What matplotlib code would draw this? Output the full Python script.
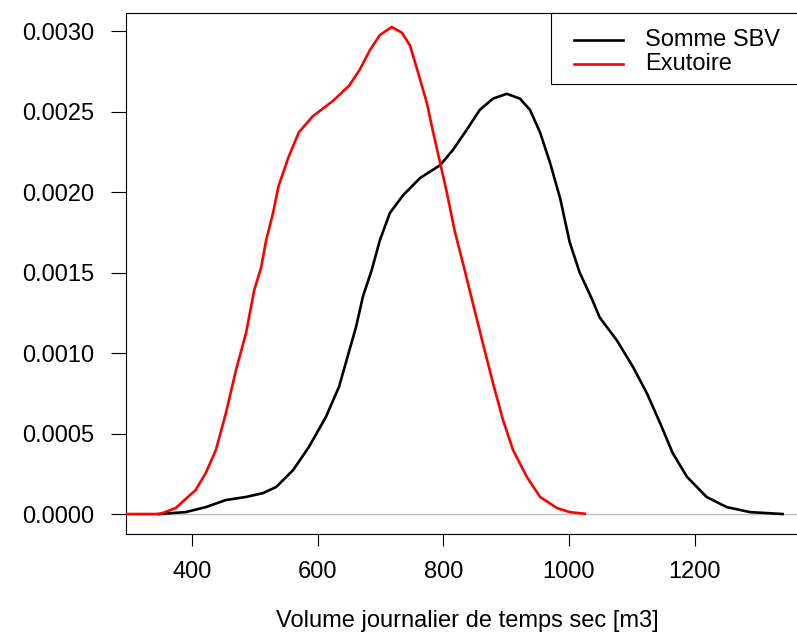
import matplotlib
matplotlib.use("Agg")
import matplotlib.pyplot as plt
from matplotlib.patches import Rectangle

plt.rcParams["font.family"] = ["Liberation Sans", "DejaVu Sans"]

# density curves
sbv_x = [347, 390, 422, 454, 486, 513, 534, 561, 586, 613, 634, 650, 661, 672,
         686, 699, 715, 736, 763, 795, 815, 837, 858, 879, 901, 922, 938, 954,
         970, 986, 1001, 1017, 1036, 1049, 1076, 1102, 1124, 1145, 1165, 1188,
         1219, 1251, 1288, 1340]
sbv_y = [0.0, 0.12, 0.43, 0.87, 1.06, 1.3, 1.68, 2.73, 4.16, 6.02, 7.9, 10.1,
         11.6, 13.5, 15.15, 17.0, 18.7, 19.8, 20.87, 21.67, 22.6, 23.85, 25.1,
         25.8, 26.1, 25.8, 25.1, 23.7, 21.8, 19.6, 16.9, 15.0, 13.4, 12.2, 10.8,
         9.13, 7.5, 5.65, 3.79, 2.3, 1.06, 0.43, 0.12, 0.0]

exu_x = [295, 349, 374, 406, 422, 438, 454, 470, 486, 499, 510, 518, 529, 538,
         554, 570, 592, 624, 650, 667, 683, 699, 718, 734, 747, 760, 774, 783,
         795, 806, 818, 834, 847, 863, 879, 895, 911, 933, 954, 981, 1001, 1025]
exu_y = [0.0, 0.0, 0.37, 1.5, 2.55, 3.97, 6.27, 8.94, 11.24, 13.9, 15.3, 17.0,
         18.7, 20.4, 22.2, 23.7, 24.7, 25.65, 26.6, 27.6, 28.8, 29.75, 30.25,
         29.9, 29.1, 27.4, 25.5, 23.85, 21.8, 19.9, 17.6, 15.15, 13.1, 10.6,
         8.14, 5.84, 3.97, 2.3, 1.06, 0.37, 0.12, 0.02]

series_labels = ["Somme SBV", "Exutoire"]
series_colors = ["black", "red"]
y_ticks = [0.0, 0.0005, 0.001, 0.0015, 0.002, 0.0025, 0.003]
x_ticks = [400, 600, 800, 1000, 1200]

fig = plt.figure(figsize=(7.97, 6.33), dpi=100)
# axes box runs a little past the right edge of the picture, as in the reference
ax = fig.add_axes([126 / 797, 99 / 633, 683 / 797, 521 / 633])

ax.axhline(0, color="#BEBEBE", lw=1.0, zorder=1)
ax.plot(sbv_x, [v * 1e-4 for v in sbv_y], color=series_colors[0], lw=1.9, zorder=2)
ax.plot(exu_x, [v * 1e-4 for v in exu_y], color=series_colors[1], lw=1.9, zorder=3)

ax.set_xlim(295, 1382)
ax.set_ylim(-0.000124, 0.003112)
ax.set_xticks(x_ticks)
ax.set_yticks(y_ticks)
ax.set_yticklabels(["%.4f" % t for t in y_ticks])

for s in ax.spines.values():
    s.set_linewidth(0.8)
ax.tick_params(axis="y", length=11, width=0.8, pad=12, labelsize=17)
ax.tick_params(axis="x", length=8.6, width=0.8, pad=11, labelsize=17)
ax.set_xlabel("Volume journalier de temps sec [m3]", fontsize=17, labelpad=19)

# legend drawn by hand so it can be cut by the right edge like the original
ax.add_patch(Rectangle((0.622, 0.8637), 0.5, 0.1363, transform=ax.transAxes,
                       facecolor="white", edgecolor="black", lw=0.8,
                       clip_on=False, zorder=5))
for i, (lab, col) in enumerate(zip(series_labels, series_colors)):
    yy = 0.948 - i * 0.046
    ax.plot([0.656, 0.7277], [yy, yy], color=col, lw=1.9, transform=ax.transAxes,
            clip_on=False, zorder=6)
    ax.text(0.760, yy, lab, fontsize=17, va="center", ha="left",
            transform=ax.transAxes, zorder=6)

fig.savefig("out.png", dpi=100)
